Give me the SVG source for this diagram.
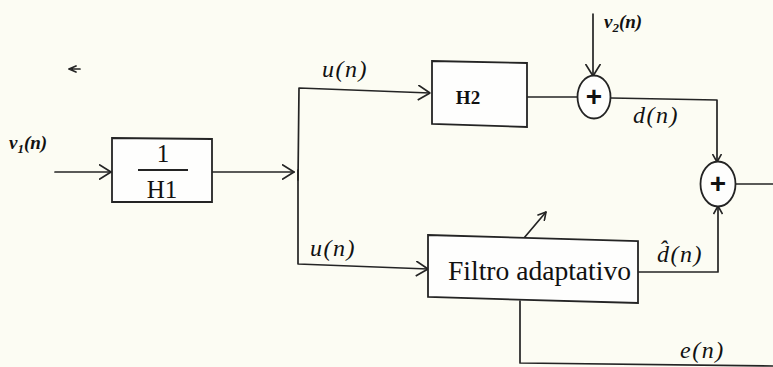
<svg xmlns="http://www.w3.org/2000/svg" width="773" height="367" viewBox="0 0 773 367">
  <style>
    .ln { fill: none; stroke: #242424; stroke-width: 1.7; stroke-linecap: round; stroke-linejoin: round; }
    .box { fill: #fefefd; stroke: #242424; stroke-width: 1.8; }
    .sum { fill: #fefefd; stroke: #242424; stroke-width: 1.8; }
    .serif { font-family: "Liberation Serif", "Times New Roman", serif; fill: #111; }
    .lbl { font-family: "Liberation Serif", "Times New Roman", serif; font-style: italic; font-size: 24px; letter-spacing: 1.5px; fill: #111; }
    .sm { font-family: "Liberation Serif", "Times New Roman", serif; font-style: italic; font-weight: bold; font-size: 19px; fill: #111; }
    .plus { font-family: "Liberation Sans", Arial, sans-serif; font-weight: bold; font-size: 28px; fill: #111; text-anchor: middle; }
  </style>
  <defs>
    <marker id="arr" viewBox="0 0 13 16" refX="12.5" refY="8" markerWidth="13" markerHeight="16" orient="auto" markerUnits="userSpaceOnUse">
      <path d="M0.5,0.5 L12.5,8 L0.5,15.5" fill="none" stroke="#242424" stroke-width="1.7" stroke-linejoin="round"/>
    </marker>
    <marker id="arrs" viewBox="0 0 9 10" refX="8.5" refY="5" markerWidth="9" markerHeight="10" orient="auto" markerUnits="userSpaceOnUse">
      <path d="M0.5,0.5 L8.5,5 L0.5,9.5" fill="none" stroke="#242424" stroke-width="1.6" stroke-linejoin="round"/>
    </marker>
  </defs>

  <rect width="773" height="367" fill="#fcfcf3"/>

  <!-- small stray mark near the top left -->
  <path d="M69,69 L76,66 M69,69 L76,72 M72,69 L80,69" class="ln" stroke-width="1.5"/>

  <!-- connectors -->
  <g id="connectors">
    <path class="ln" d="M55,172 L111,172" marker-end="url(#arr)"/>
    <path class="ln" d="M212,172 L294,172" marker-end="url(#arr)"/>
    <path class="ln" d="M298,180 L299,88 L430,93" marker-end="url(#arr)"/>
    <path class="ln" d="M298,170 L298,264 L428,269" marker-end="url(#arr)"/>
    <path class="ln" d="M527,97 L578,97"/>
    <path class="ln" d="M593,14 L593,76" marker-end="url(#arr)"/>
    <path class="ln" d="M611,98 L717,100 L717,162" marker-end="url(#arrs)"/>
    <path class="ln" d="M735,184 L773,184"/>
    <path class="ln" d="M638,272 L718,272 L718,206" marker-end="url(#arrs)"/>
    <path class="ln" d="M524,238 L546,212" marker-end="url(#arrs)"/>
    <path class="ln" d="M520,301 L520,363 L773,366"/>
  </g>

  <!-- 1/H1 block -->
  <g id="h1inv">
    <polygon class="box" points="112,138 212,139 212,202 112,202"/>
    <line x1="138" y1="170" x2="188" y2="170" stroke="#242424" stroke-width="1.8"/>
    <text class="serif" x="163" y="162" font-size="25" text-anchor="middle">1</text>
    <text class="serif" x="162" y="198" font-size="25" text-anchor="middle">H1</text>
  </g>

  <!-- H2 block -->
  <g id="h2">
    <polygon class="box" points="432,61 527,63 527,127 432,124"/>
    <text class="serif" x="468" y="104" font-size="19" font-weight="bold" text-anchor="middle">H2</text>
  </g>

  <!-- adaptive filter block -->
  <g id="filtro">
    <polygon class="box" points="428,235 638,241 638,303 428,297"/>
    <text class="serif" x="448" y="280" font-size="27" textLength="183" lengthAdjust="spacingAndGlyphs">Filtro adaptativo</text>
  </g>

  <!-- summing junctions -->
  <g id="sum1">
    <ellipse class="sum" cx="594" cy="97" rx="16.5" ry="21.5"/>
    <text class="plus" x="594" y="106">+</text>
  </g>
  <g id="sum2">
    <ellipse class="sum" cx="718" cy="184" rx="17.5" ry="22.5"/>
    <text class="plus" x="718" y="193">+</text>
  </g>

  <!-- signal labels -->
  <g id="labels">
    <text class="sm" x="9" y="149">v<tspan font-size="13" dy="4">1</tspan><tspan dy="-4">(n)</tspan></text>
    <text class="sm" x="604" y="28">v<tspan font-size="13" dy="4">2</tspan><tspan dy="-4">(n)</tspan></text>
    <text class="lbl" x="322" y="77">u(n)</text>
    <text class="lbl" x="310" y="256">u(n)</text>
    <text class="lbl" x="633" y="123">d(n)</text>
    <text class="lbl" x="657" y="262">d̂(n)</text>
    <text class="lbl" x="680" y="358">e(n)</text>
  </g>
</svg>
